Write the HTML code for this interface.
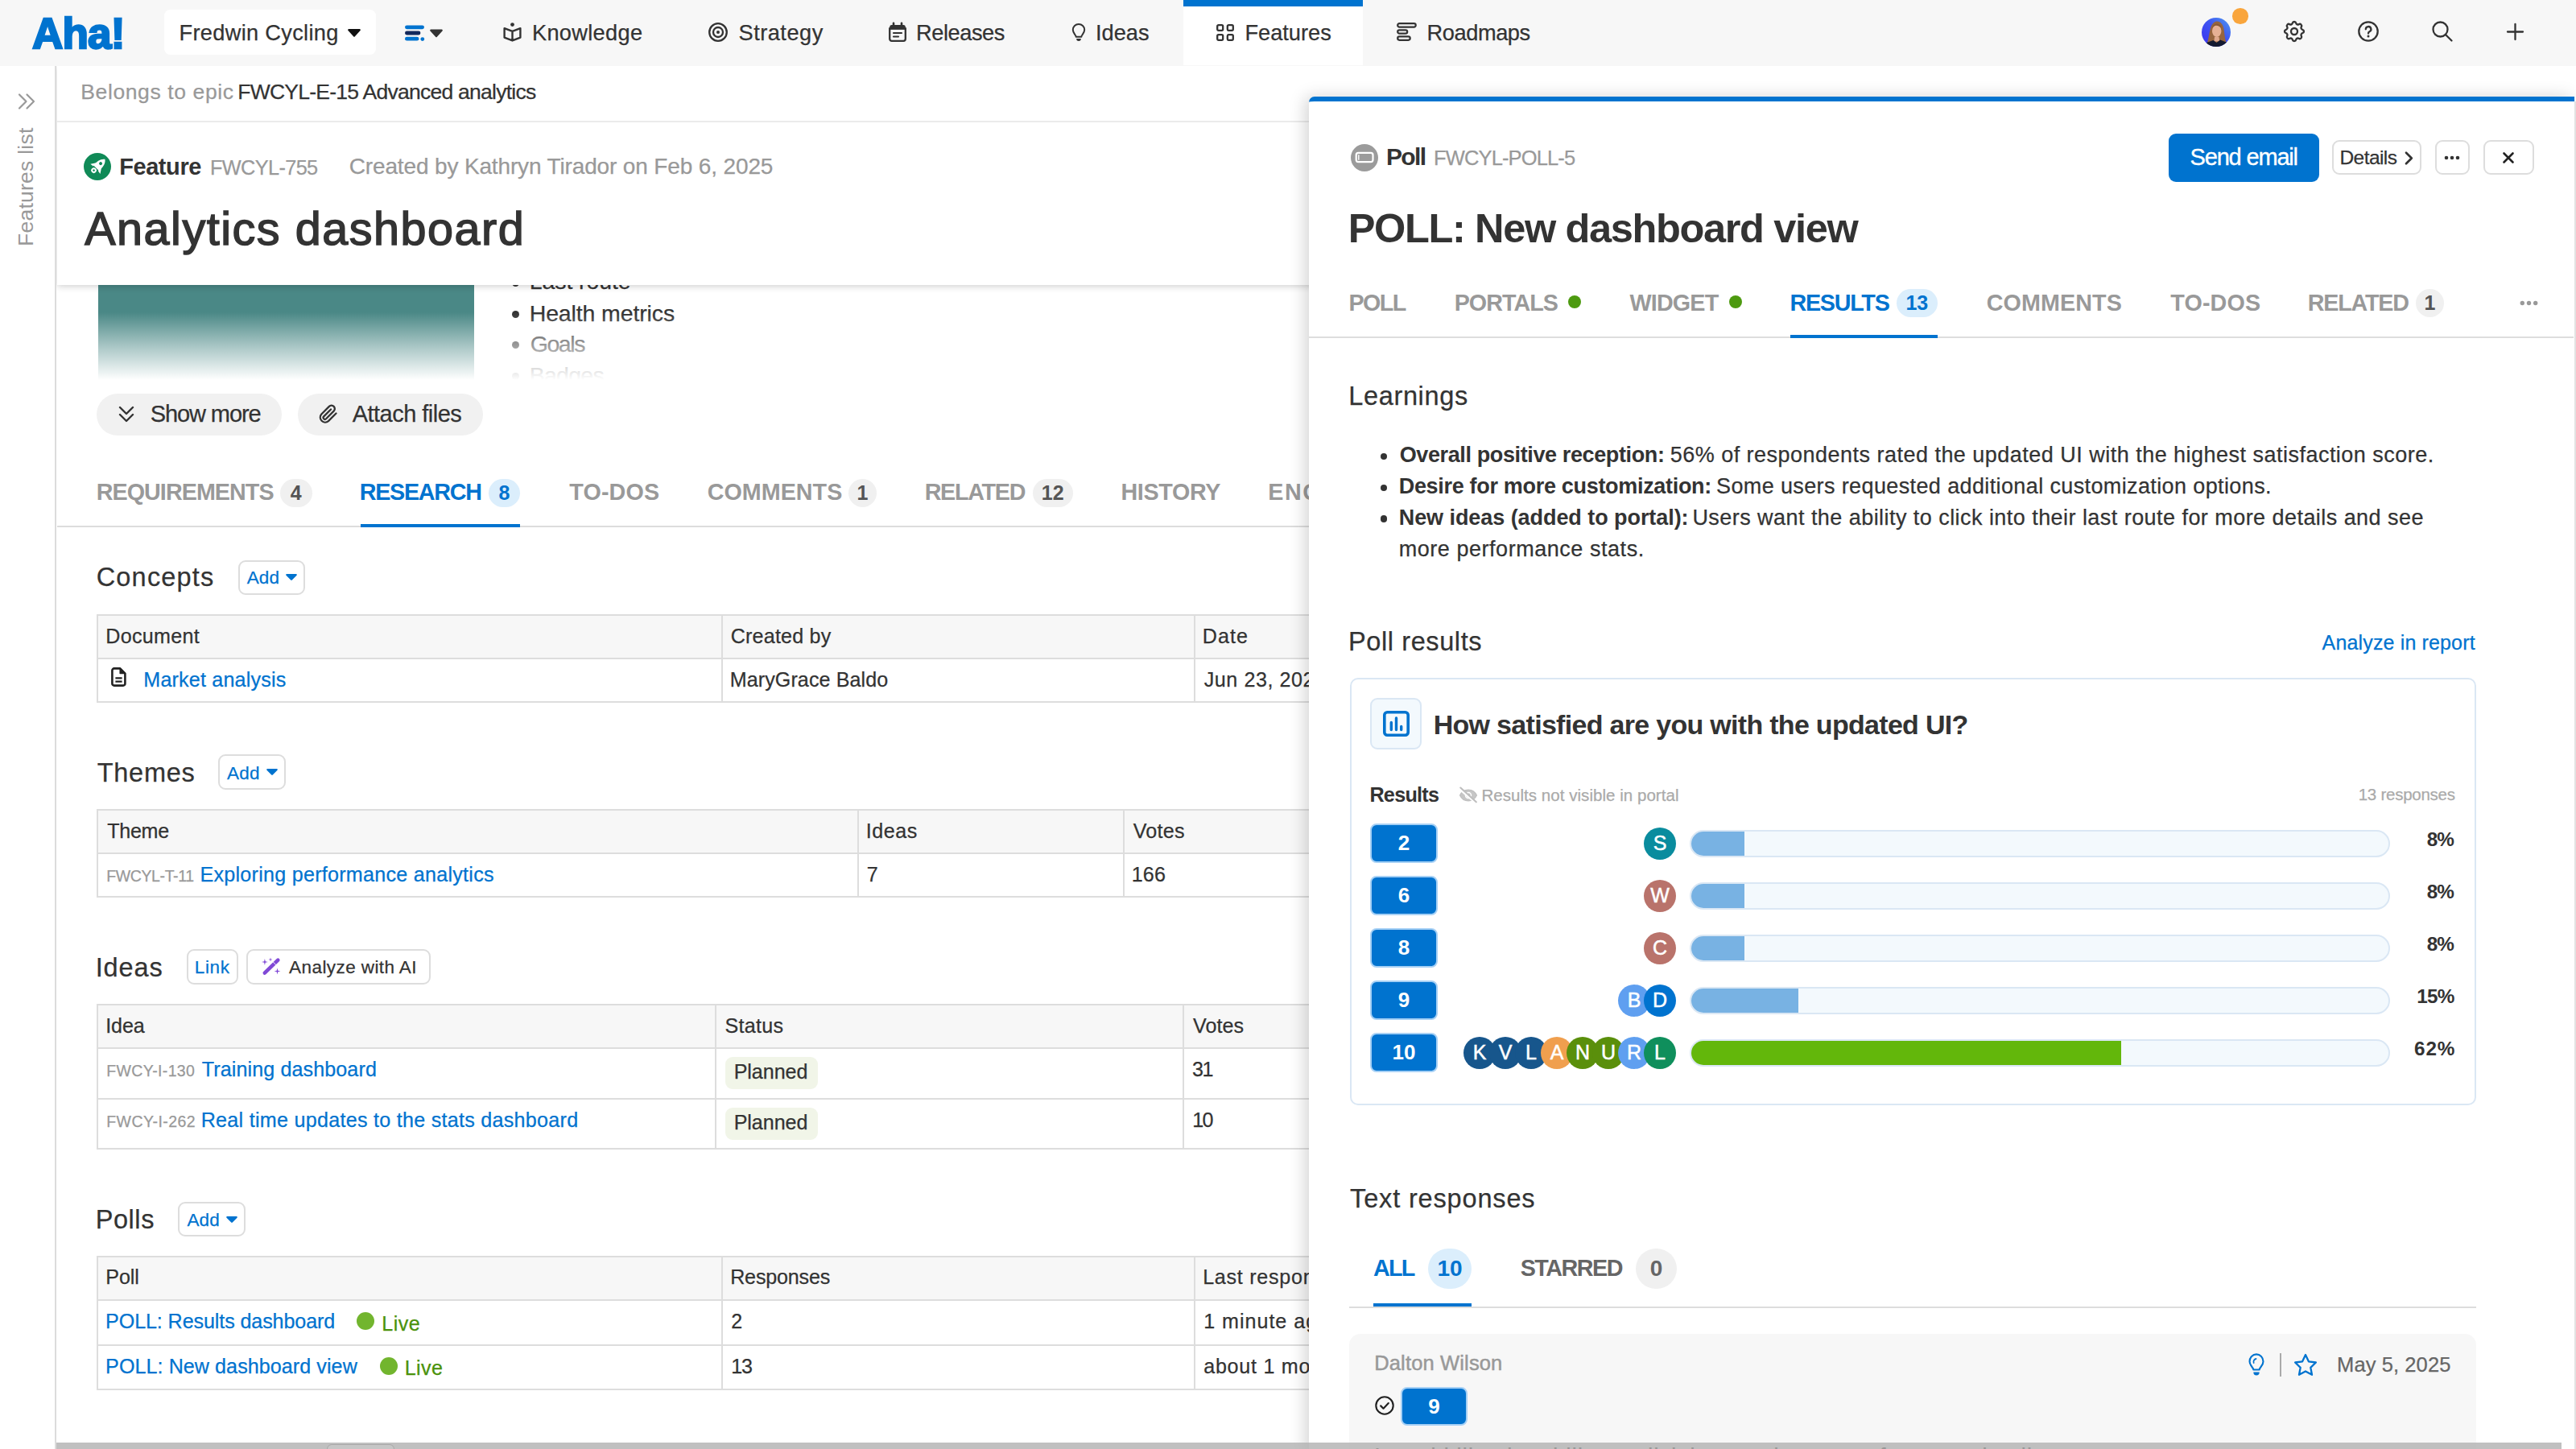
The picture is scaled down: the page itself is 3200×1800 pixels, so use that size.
<!DOCTYPE html>
<html lang="en"><head><meta charset="utf-8"><title>Analytics dashboard - Aha!</title>
<style>
html,body{margin:0;padding:0;background:#fff;}
body{width:3200px;height:1800px;overflow:hidden;position:relative;font-family:'Liberation Sans',Arial,sans-serif;color:#333;}
.ly{position:absolute;left:0;top:0;width:3200px;height:1800px;overflow:hidden;}
.ly *{position:absolute;box-sizing:border-box;}
.t{white-space:pre;line-height:1;color:#333;}
.r{-webkit-text-stroke-width:.25px;}
.c{display:flex;align-items:center;justify-content:center;white-space:pre;line-height:1;}
.c>*{position:static;}
.tb{border:2px solid #ddd;background:#fff;}
.th{background:#f7f7f7;}
.hl{background:#ddd;height:2px;}
.vl{background:#ddd;width:2px;}
.bdg{border-radius:18px;background:#f0f0f0;color:#555;font-weight:700;font-size:25px;}
.bdg.b{background:#dbeefc;color:#0073cf;}
.btn{border:2px solid #ddd;border-radius:9px;background:#fff;}
.nb{background:#0073cf;border:2.5px solid #a6d0f5;border-radius:8px;color:#fff;font-weight:700;font-size:26px;}
.av{width:40px;height:40px;border-radius:50%;color:#fff;font-size:25px;-webkit-text-stroke:.5px #fff;}
.bar{left:2099px;width:869.500px;height:34px;border:2px solid #dae7f4;border-radius:17px;background:#f3f9fd;overflow:hidden;}
.bar i{left:0;top:0;height:30px;background:#78b2e3;}
.dot{border-radius:50%;}
svg{overflow:visible;}
@media (max-width:2400px){html{zoom:.5;}}
</style></head><body>

<!-- ============ LEFT CONTENT ============ -->
<div class="ly" id="left">
  <div style="left:121.500px;top:340px;width:467.500px;height:132px;background:#4a8886"></div>
  <div class="dot" style="left:636px;top:347px;width:9px;height:9px;background:#333"></div>
  <div class="dot" style="left:636px;top:385.5px;width:9px;height:9px;background:#333"></div>
  <div class="dot" style="left:636px;top:424px;width:9px;height:9px;background:#333"></div>
  <div class="dot" style="left:636px;top:462.5px;width:9px;height:9px;background:#333"></div>
<span class="t r" style="left:657.7px;top:335.3px;font-size:28.5px;letter-spacing:-0.08px;">Last route</span>
<span class="t r" style="left:657.7px;top:374.8px;font-size:28.5px;letter-spacing:-0.13px;">Health metrics</span>
<span class="t r" style="left:658.7px;top:413.3px;font-size:28.5px;letter-spacing:-1.43px;">Goals</span>
<span class="t r" style="left:657.7px;top:451.8px;font-size:28.5px;letter-spacing:-0.74px;">Badges</span>
  <div style="left:71px;top:388px;width:1700px;height:84px;background:linear-gradient(to bottom,rgba(255,255,255,0) 0%,rgba(255,255,255,.52) 50%,#fff 100%)"></div>
  <div style="left:71px;top:472px;width:1700px;height:17px;background:#fff"></div>
  <!-- buttons -->
  <div style="left:120px;top:489px;width:230px;height:52px;border-radius:26px;background:#f1f1f1"></div>
  <div style="left:370px;top:489px;width:230px;height:52px;border-radius:26px;background:#f1f1f1"></div>
  <svg style="left:147px;top:503px" width="20" height="24" viewBox="0 0 20 24"><path d="M2 3l8 8 8-8M2 12l8 8 8-8" fill="none" stroke="#333" stroke-width="2.4" stroke-linecap="round" stroke-linejoin="round"/></svg>
  <svg style="left:395px;top:502px" width="25" height="26" viewBox="0 0 25 26"><path d="M22.5 11.5l-9.6 9.6a6.1 6.1 0 0 1-8.6-8.6l9.6-9.6a4.06 4.06 0 0 1 5.75 5.75l-9.6 9.6a2.03 2.03 0 0 1-2.87-2.87l8.87-8.87" fill="none" stroke="#333" stroke-width="2.3" stroke-linecap="round" stroke-linejoin="round"/></svg>
  <!-- tabs -->
  <div class="hl" style="left:71px;top:652.6px;width:1700px"></div>
  <div style="left:448px;top:651px;width:198px;height:3.700px;background:#0073cf"></div>
  <div class="c bdg" style="left:348px;top:594.800px;width:39.6px;height:35px">4</div>
  <div class="c bdg b" style="left:607px;top:594.800px;width:39px;height:35px">8</div>
  <div class="c bdg" style="left:1053.7px;top:594.800px;width:35.3px;height:35px">1</div>
  <div class="c bdg" style="left:1282.5px;top:594.800px;width:50.5px;height:35px">12</div>
  <!-- section buttons -->
  <div class="btn" style="left:295.700px;top:695.500px;width:83px;height:43px"></div>
  <div class="btn" style="left:270.800px;top:937.300px;width:84.200px;height:43.400px"></div>
  <div class="btn" style="left:221.200px;top:1492.800px;width:84px;height:43.400px"></div>
  <div class="btn" style="left:232.200px;top:1179.300px;width:63.600px;height:43.400px"></div>
  <div class="btn" style="left:306.400px;top:1179.300px;width:228.600px;height:43.400px"></div>
  <svg style="left:355px;top:713px" width="14" height="8" viewBox="0 0 14 8"><path d="M1.2 0h11.6a1 1 0 0 1 .75 1.7L7.8 7.6a1.1 1.1 0 0 1-1.6 0L.45 1.7A1 1 0 0 1 1.2 0z" fill="#0073cf"/></svg>
  <svg style="left:330.5px;top:955px" width="14" height="8" viewBox="0 0 14 8"><path d="M1.2 0h11.6a1 1 0 0 1 .75 1.7L7.8 7.6a1.1 1.1 0 0 1-1.6 0L.45 1.7A1 1 0 0 1 1.2 0z" fill="#0073cf"/></svg>
  <svg style="left:280.5px;top:1510.5px" width="14" height="8" viewBox="0 0 14 8"><path d="M1.2 0h11.6a1 1 0 0 1 .75 1.7L7.8 7.6a1.1 1.1 0 0 1-1.6 0L.45 1.7A1 1 0 0 1 1.2 0z" fill="#0073cf"/></svg>
  <!-- wand icon -->
  <svg style="left:322px;top:1186px" width="30" height="30" viewBox="0 0 30 30"><path d="M6.8 22.6L23.3 6.6" stroke="#8049d6" stroke-width="4.600" stroke-linecap="round"/><path d="M21.10 12.91L16.92 8.61" stroke="#fff" stroke-width="0.900"/><path d="M6.90 5.10L7.67 8.23L10.80 9.00L7.67 9.77L6.90 12.90L6.13 9.77L3.00 9.00L6.13 8.23ZM14.00 3.50L14.49 5.51L16.50 6.00L14.49 6.49L14.00 8.50L13.51 6.49L11.50 6.00L13.51 5.51ZM22.50 16.60L23.27 19.73L26.40 20.50L23.27 21.27L22.50 24.40L21.73 21.27L18.60 20.50L21.73 19.73Z" fill="#8049d6"/></svg>
  <!-- tables -->
  <div class="tb" style="left:120px;top:763px;width:1700px;height:110px"><div class="th" style="left:0;top:0;width:1700px;height:52px"></div><div class="hl" style="left:0;top:52px;width:1700px"></div><div class="vl" style="left:773.5px;top:0;height:106px"></div><div class="vl" style="left:1360.5px;top:0;height:106px"></div></div>
  <div class="tb" style="left:120px;top:1005px;width:1700px;height:110px"><div class="th" style="left:0;top:0;width:1700px;height:52px"></div><div class="hl" style="left:0;top:52px;width:1700px"></div><div class="vl" style="left:942.5px;top:0;height:106px"></div><div class="vl" style="left:1272.5px;top:0;height:106px"></div></div>
  <div class="tb" style="left:120px;top:1247px;width:1700px;height:181px"><div class="th" style="left:0;top:0;width:1700px;height:52px"></div><div class="hl" style="left:0;top:52px;width:1700px"></div><div class="hl" style="left:0;top:115px;width:1700px"></div><div class="vl" style="left:765.5px;top:0;height:177px"></div><div class="vl" style="left:1346.5px;top:0;height:177px"></div>
    <div style="left:778.5px;top:63.8px;width:115px;height:40.4px;border-radius:9px;background:#f1f5e8"></div><div style="left:778.5px;top:126.8px;width:115px;height:40.4px;border-radius:9px;background:#f1f5e8"></div></div>
  <div class="tb" style="left:120px;top:1560px;width:1700px;height:167px"><div class="th" style="left:0;top:0;width:1700px;height:52px"></div><div class="hl" style="left:0;top:52px;width:1700px"></div><div class="hl" style="left:0;top:107.5px;width:1700px"></div><div class="vl" style="left:773.5px;top:0;height:163px"></div><div class="vl" style="left:1360.5px;top:0;height:163px"></div></div>
  <!-- doc icon -->
  <svg style="left:138px;top:829px" width="19" height="24" viewBox="0 0 19 24"><path d="M3.800 1.400h7.400l6.200 6.200v12.600a2.400 2.400 0 0 1-2.400 2.400H3.800a2.400 2.400 0 0 1-2.400-2.400V3.800a2.400 2.400 0 0 1 2.400-2.400z" fill="none" stroke="#222" stroke-width="2.600" stroke-linejoin="round"/><path d="M11.200 1.400v6.200h6.200z" fill="#222" stroke="#222" stroke-width="1.500" stroke-linejoin="round"/><path d="M5.400 13.300h8.200M5.400 17.600h8.200" fill="none" stroke="#222" stroke-width="2.300"/></svg>
  <!-- live dots -->
  <div class="dot" style="left:443px;top:1630px;width:22px;height:22px;background:#72b52e"></div>
  <div class="dot" style="left:471.800px;top:1685.500px;width:22px;height:22px;background:#72b52e"></div>
<span class="t r" style="left:186.7px;top:500.4px;font-size:29px;letter-spacing:-1.09px;">Show more</span>
<span class="t r" style="left:437.7px;top:500.4px;font-size:29px;letter-spacing:-0.52px;">Attach files</span>
<span class="t" style="left:119.7px;top:596.9px;font-size:28.7px;font-weight:700;color:#999999;letter-spacing:-0.93px;">REQUIREMENTS</span>
<span class="t" style="left:446.7px;top:596.9px;font-size:28.7px;font-weight:700;color:#0073cf;letter-spacing:-1.24px;">RESEARCH</span>
<span class="t" style="left:707.3px;top:596.9px;font-size:28.7px;font-weight:700;color:#999999;letter-spacing:0.14px;">TO-DOS</span>
<span class="t" style="left:878.7px;top:596.9px;font-size:28.7px;font-weight:700;color:#999999;letter-spacing:0.04px;">COMMENTS</span>
<span class="t" style="left:1148.7px;top:596.9px;font-size:28.7px;font-weight:700;color:#999999;letter-spacing:-1.28px;">RELATED</span>
<span class="t" style="left:1392.4px;top:596.9px;font-size:28.7px;font-weight:700;color:#999999;letter-spacing:-0.32px;">HISTORY</span>
<span class="t" style="left:1575.3px;top:596.9px;font-size:28.7px;font-weight:700;color:#999999;letter-spacing:1.57px;">ENGINEERING</span>
<span class="t r" style="left:119.7px;top:701.4px;font-size:32.5px;letter-spacing:1.19px;">Concepts</span>
<span class="t r" style="left:120.7px;top:944.2px;font-size:32.5px;letter-spacing:0.74px;">Themes</span>
<span class="t r" style="left:118.7px;top:1186.2px;font-size:32.5px;letter-spacing:0.90px;">Ideas</span>
<span class="t r" style="left:118.7px;top:1498.7px;font-size:32.5px;letter-spacing:0.57px;">Polls</span>
<span class="t r" style="left:306.7px;top:707.4px;font-size:22.5px;color:#0073cf;letter-spacing:0.15px;">Add</span>
<span class="t r" style="left:282.1px;top:949.9px;font-size:22.5px;color:#0073cf;letter-spacing:0.15px;">Add</span>
<span class="t r" style="left:232.4px;top:1504.9px;font-size:22.5px;color:#0073cf;letter-spacing:0.15px;">Add</span>
<span class="t r" style="left:241.7px;top:1190.8px;font-size:22.5px;color:#0073cf;letter-spacing:0.70px;">Link</span>
<span class="t r" style="left:359.1px;top:1190.8px;font-size:22.5px;letter-spacing:0.42px;">Analyze with AI</span>
<span class="t r" style="left:131.3px;top:778.2px;font-size:25.1px;letter-spacing:0.31px;">Document</span>
<span class="t r" style="left:907.7px;top:778.2px;font-size:25.1px;letter-spacing:0.20px;">Created by</span>
<span class="t r" style="left:1493.7px;top:778.2px;font-size:25.1px;letter-spacing:1.10px;">Date</span>
<span class="t r" style="left:178.3px;top:831.8px;font-size:25.1px;color:#0073cf;letter-spacing:0.19px;">Market analysis</span>
<span class="t r" style="left:906.7px;top:831.6px;font-size:25.1px;letter-spacing:0.09px;">MaryGrace Baldo</span>
<span class="t r" style="left:1495.7px;top:831.6px;font-size:25.1px;letter-spacing:0.57px;">Jun 23, 2025</span>
<span class="t r" style="left:133.3px;top:1019.6px;font-size:25.1px;letter-spacing:-0.32px;">Theme</span>
<span class="t r" style="left:1075.7px;top:1019.6px;font-size:25.1px;letter-spacing:0.57px;">Ideas</span>
<span class="t r" style="left:1407.7px;top:1019.6px;font-size:25.1px;letter-spacing:0.25px;">Votes</span>
<span class="t r" style="left:132.3px;top:1078.6px;font-size:19.5px;color:#999999;letter-spacing:-0.40px;">FWCYL-T-11</span>
<span class="t r" style="left:248.4px;top:1073.9px;font-size:25.1px;color:#0073cf;letter-spacing:0.27px;">Exploring performance analytics</span>
<span class="t r" style="left:1076.7px;top:1073.9px;font-size:25.1px;letter-spacing:1.30px;">7</span>
<span class="t r" style="left:1405.7px;top:1073.9px;font-size:25.1px;letter-spacing:0.15px;">166</span>
<span class="t r" style="left:131.3px;top:1261.8px;font-size:25.1px;letter-spacing:-0.17px;">Idea</span>
<span class="t r" style="left:900.6px;top:1261.8px;font-size:25.1px;letter-spacing:0.28px;">Status</span>
<span class="t r" style="left:1482.0px;top:1261.8px;font-size:25.1px;letter-spacing:0.07px;">Votes</span>
<span class="t r" style="left:132.3px;top:1320.7px;font-size:19.5px;color:#999999;letter-spacing:0.33px;">FWCY-I-130</span>
<span class="t r" style="left:250.7px;top:1316.0px;font-size:25.1px;color:#0073cf;letter-spacing:0.11px;">Training dashboard</span>
<span class="t r" style="left:911.7px;top:1319.2px;font-size:25.1px;letter-spacing:-0.07px;">Planned</span>
<span class="t r" style="left:1481.0px;top:1316.2px;font-size:25.1px;letter-spacing:-1.50px;">31</span>
<span class="t r" style="left:132.3px;top:1383.5px;font-size:19.5px;color:#999999;letter-spacing:0.41px;">FWCY-I-262</span>
<span class="t r" style="left:249.7px;top:1378.8px;font-size:25.1px;color:#0073cf;letter-spacing:0.28px;">Real time updates to the stats dashboard</span>
<span class="t r" style="left:911.7px;top:1382.2px;font-size:25.1px;letter-spacing:-0.07px;">Planned</span>
<span class="t r" style="left:1481.2px;top:1378.8px;font-size:25.1px;letter-spacing:-1.70px;">10</span>
<span class="t r" style="left:131.3px;top:1573.9px;font-size:25.1px;letter-spacing:-0.10px;">Poll</span>
<span class="t r" style="left:907.2px;top:1573.9px;font-size:25.1px;letter-spacing:-0.19px;">Responses</span>
<span class="t r" style="left:1494.2px;top:1573.9px;font-size:25.1px;letter-spacing:0.73px;">Last response</span>
<span class="t r" style="left:131.1px;top:1629.2px;font-size:25.1px;color:#0073cf;letter-spacing:-0.10px;">POLL: Results dashboard</span>
<span class="t r" style="left:474.2px;top:1631.5px;font-size:25.1px;color:#4a920c;letter-spacing:0.53px;">Live</span>
<span class="t r" style="left:908.2px;top:1629.2px;font-size:25.1px;letter-spacing:1.80px;">2</span>
<span class="t r" style="left:1495.2px;top:1629.2px;font-size:25.1px;letter-spacing:0.98px;">1 minute ago</span>
<span class="t r" style="left:131.1px;top:1684.7px;font-size:25.1px;color:#0073cf;letter-spacing:0.07px;">POLL: New dashboard view</span>
<span class="t r" style="left:502.7px;top:1687.0px;font-size:25.1px;color:#4a920c;letter-spacing:0.37px;">Live</span>
<span class="t r" style="left:908.2px;top:1684.7px;font-size:25.1px;letter-spacing:-1.20px;">13</span>
<span class="t r" style="left:1495.2px;top:1684.7px;font-size:25.1px;letter-spacing:0.74px;">about 1 month ago</span>
</div>

<!-- ============ HEADER ============ -->
<div class="ly" id="hdr">
  <div style="left:71px;top:81px;width:3129px;height:273px;background:#fff;box-shadow:0 2px 8px rgba(0,0,0,.18)"></div>
  <div style="left:71px;top:150px;width:3129px;height:2px;background:#ebebeb"></div>
  <div class="dot" style="left:104px;top:190px;width:34px;height:34px;background:#108a57"></div>
  <svg style="left:104px;top:190px" width="34" height="34" viewBox="-17 -17 34 34"><g transform="translate(.8,-.6) rotate(45)"><path d="M0-12.200C4.300-9 5.600-3.500 4.600 3.200L-4.600 3.200C-5.600-3.500-4.300-9 0-12.200Z" fill="#fff"/><path d="M-4.400-1.500L-8.600 4.800-4.200 4.200ZM4.400-1.500L8.600 4.800 4.200 4.200Z" fill="#fff"/><circle cx="0" cy="-4.600" r="2" fill="#108a57"/><circle cx="0" cy="7.400" r="3.300" fill="#fff"/><circle cx="0" cy="7.400" r="1.300" fill="#108a57"/></g></svg>
<span class="t r" style="left:100.3px;top:100.5px;font-size:26.5px;color:#999999;letter-spacing:0.61px;">Belongs to epic</span>
<span class="t r" style="left:295.2px;top:100.5px;font-size:26.5px;letter-spacing:-0.74px;">FWCYL-E-15 Advanced analytics</span>
<span class="t" style="left:148.2px;top:192.5px;font-size:29px;font-weight:700;letter-spacing:-0.43px;">Feature</span>
<span class="t r" style="left:260.9px;top:195.6px;font-size:25.3px;color:#999999;letter-spacing:-0.61px;">FWCYL-755</span>
<span class="t r" style="left:433.7px;top:193.3px;font-size:28px;color:#999999;letter-spacing:-0.14px;">Created by Kathryn Tirador on Feb 6, 2025</span>
<span class="t" style="left:105.2px;top:256.0px;font-size:57.5px;letter-spacing:1.54px;-webkit-text-stroke:1.5px #333;">Analytics dashboard</span>
</div>

<!-- ============ SIDEBAR ============ -->
<div class="ly" id="side">
  <div style="left:0;top:81px;width:68px;height:1719px;background:#fff"></div>
  <div style="left:68px;top:81px;width:2px;height:1719px;background:#dcdcdc"></div>
  <svg style="left:22px;top:116px" width="22" height="20" viewBox="0 0 22 20"><path d="M2 1.500l8.500 8.500L2 18.500M11.500 1.500L20 10l-8.500 8.500" fill="none" stroke="#999" stroke-width="2.200" stroke-linecap="round" stroke-linejoin="round"/></svg>
  <span class="t" style="left:19px;top:306px;font-size:26.500px;color:#999;transform:rotate(-90deg);transform-origin:0 0;letter-spacing:0.250px">Features list</span>
</div>

<!-- ============ NAV ============ -->
<div class="ly" id="nav">
  <div style="left:0;top:0;width:3200px;height:81.500px;background:#f7f7f7"></div>
  <div style="left:1470px;top:0;width:223px;height:81px;background:#fff;border-top:8px solid #0073cf"></div>
  <div style="left:204px;top:12px;width:263px;height:56px;border-radius:7.500px;background:#fff"></div>
  <svg style="left:432px;top:36px" width="16" height="10" viewBox="0 0 16 10"><path d="M1.300 0h13.400a1.100 1.100 0 0 1 .8 1.900L8.900 9.300a1.200 1.200 0 0 1-1.800 0L.5 1.900A1.100 1.100 0 0 1 1.300 0z" fill="#111"/></svg>
  <svg style="left:503px;top:31px" width="48" height="20" viewBox="0 0 48 20"><path d="M2.400 2.800h19.200" stroke="#0073cf" stroke-width="4.800" stroke-linecap="round"/><path d="M2.400 10h14.600" stroke="#14295c" stroke-width="4.800" stroke-linecap="round"/><path d="M2.400 17.200h12.600" stroke="#0073cf" stroke-width="4.800" stroke-linecap="round"/><circle cx="21.800" cy="17.600" r="2.400" fill="#0073cf"/><path d="M32.300 5.500h13.400a1.100 1.100 0 0 1 .8 1.900l-6.600 7.400a1.200 1.200 0 0 1-1.800 0l-6.600-7.400a1.100 1.100 0 0 1 .8-1.900z" fill="#333"/></svg>
  <!-- knowledge -->
  <svg style="left:624px;top:26.500px" width="25" height="25" viewBox="0 0 24 24"><circle cx="12" cy="3.400" r="2.300" fill="#333"/><path d="M12 11.500v11M12 11.500L2.500 7.800v11L12 22.500l9.500-3.700v-11z" fill="none" stroke="#333" stroke-width="2.300" stroke-linejoin="round"/></svg>
  <!-- strategy -->
  <svg style="left:880px;top:28px" width="24" height="24" viewBox="0 0 24 24"><circle cx="12" cy="12" r="10.800" fill="none" stroke="#333" stroke-width="2.300"/><circle cx="12" cy="12" r="6" fill="none" stroke="#333" stroke-width="2.300"/><circle cx="12" cy="12" r="2" fill="#333"/></svg>
  <!-- releases -->
  <svg style="left:1104px;top:28px" width="22" height="24" viewBox="0 0 22 24"><path d="M1.200 7.500h19.600v12.800a2.500 2.500 0 0 1-2.500 2.500H3.700a2.500 2.500 0 0 1-2.500-2.500z" fill="none" stroke="#333" stroke-width="2.300"/><path d="M3.700 3h14.600a2.500 2.500 0 0 1 2.500 2.500v3H1.200v-3A2.500 2.500 0 0 1 3.700 3z" fill="#333"/><path d="M6 .8v4M16 .8v4" stroke="#333" stroke-width="2.600" stroke-linecap="round"/><path d="M6 13h10M6 17.500h6" stroke="#333" stroke-width="2.200" stroke-linecap="round"/></svg>
  <!-- ideas -->
  <svg style="left:1331px;top:28.500px" width="18" height="22.500" viewBox="0 0 20 25"><path d="M6.300 18.500c0-2.500-4.300-4.500-4.300-9.500a8 8 0 0 1 16 0c0 5-4.300 7-4.300 9.500z" fill="none" stroke="#333" stroke-width="2.200" stroke-linejoin="round"/><path d="M6.800 21.200h6.400a3.200 3.200 0 0 1-6.400 0z" fill="#333"/></svg>
  <!-- features -->
  <svg style="left:1511px;top:29.500px" width="22" height="21" viewBox="0 0 22 21"><g fill="none" stroke="#333" stroke-width="2.300"><rect x="1.200" y="1.200" width="7" height="6.600" rx="1.500"/><rect x="13.800" y="1.200" width="7" height="6.600" rx="1.500"/><rect x="1.200" y="13.200" width="7" height="6.600" rx="1.500"/><rect x="13.800" y="13.200" width="7" height="6.600" rx="1.500"/></g></svg>
  <!-- roadmaps -->
  <svg style="left:1735px;top:28px" width="25" height="23" viewBox="0 0 25 23"><g fill="none" stroke="#333" stroke-width="2.200"><rect x="1.200" y="1.200" width="22.500" height="4.400" rx="2.200"/><rect x="1.200" y="9.300" width="12" height="4.400" rx="2.200"/><rect x="1.200" y="17.400" width="15.500" height="4.400" rx="2.200"/></g></svg>
  <!-- avatar -->
  <svg style="left:2735px;top:22px" width="36" height="36" viewBox="0 0 36 36"><defs><linearGradient id="avbg" x1="0" y1="1" x2="1" y2="0"><stop offset="0" stop-color="#3a30ee"/><stop offset=".55" stop-color="#3f55f2"/><stop offset="1" stop-color="#4d9af0"/></linearGradient><clipPath id="avc"><circle cx="18" cy="18" r="18"/></clipPath></defs><g clip-path="url(#avc)"><rect width="36" height="36" fill="url(#avbg)"/><path d="M6.500 33c2-6 2.500-12 4-18 1.200-5.500 4-10.600 8.500-10.600 4.600 0 7.500 4 8.400 9 1 6 1.300 12.500 3.100 17.600l-12 5z" fill="#96653f"/><ellipse cx="18.700" cy="16.400" rx="5.700" ry="7.600" fill="#e6b095"/><path d="M12.600 14c1-4.500 3.600-6.800 7-6.400 2.800.4 4.700 2.600 5.200 6-2-2.600-4.400-3.900-7-3.800-2 .1-3.800 1.600-5.200 4.200z" fill="#8a5a38"/><path d="M16 24h5.500l.8 5.500h-7z" fill="#dfa88d"/><path d="M4.500 31.500l10-3.500 4 3 4.500-3.500 9 3.500v6h-27.500z" fill="#141a30"/></g></svg>
  <div class="dot" style="left:2773.200px;top:10px;width:19.600px;height:19.600px;background:#f9a53c"></div>
  <!-- gear -->
  <svg style="left:2834px;top:23px" width="32" height="32" viewBox="0 0 24 24"><path d="M10.325 4.317c.426-1.756 2.924-1.756 3.350 0a1.724 1.724 0 0 0 2.573 1.066c1.543-.94 3.310.826 2.370 2.370a1.724 1.724 0 0 0 1.065 2.572c1.756.426 1.756 2.924 0 3.350a1.724 1.724 0 0 0-1.066 2.573c.94 1.543-.826 3.310-2.370 2.370a1.724 1.724 0 0 0-2.572 1.065c-.426 1.756-2.924 1.756-3.350 0a1.724 1.724 0 0 0-2.573-1.066c-1.543.940-3.310-.826-2.370-2.370a1.724 1.724 0 0 0-1.065-2.572c-1.756-.426-1.756-2.924 0-3.350a1.724 1.724 0 0 0 1.066-2.573c-.940-1.543.826-3.310 2.370-2.370.996.608 2.296.070 2.572-1.065z" fill="none" stroke="#333" stroke-width="1.750"/><circle cx="12" cy="12" r="3" fill="none" stroke="#333" stroke-width="1.750"/></svg>
  <!-- help -->
  <svg style="left:2929px;top:26px" width="26" height="26" viewBox="0 0 26 26"><circle cx="13" cy="13" r="11.700" fill="none" stroke="#333" stroke-width="2.300"/><path d="M9.800 10.300a3.300 3.300 0 1 1 4.700 3c-1 .5-1.500 1.100-1.500 2.200" fill="none" stroke="#333" stroke-width="2.300" stroke-linecap="round"/><circle cx="13" cy="19" r="1.500" fill="#333"/></svg>
  <!-- search -->
  <svg style="left:3021px;top:26px" width="26" height="26" viewBox="0 0 26 26"><circle cx="10.500" cy="10.500" r="9" fill="none" stroke="#333" stroke-width="2.300"/><path d="M17.200 17.200l7.300 7.300" stroke="#333" stroke-width="2.300" stroke-linecap="round"/></svg>
  <!-- plus -->
  <svg style="left:3114px;top:29px" width="21" height="21" viewBox="0 0 21 21"><path d="M10.500 1v19M1 10.500h19" stroke="#333" stroke-width="2.300" stroke-linecap="round"/></svg>
<span class="t r" style="left:222.5px;top:26.7px;font-size:27.2px;letter-spacing:0.32px;">Fredwin Cycling</span>
<span class="t r" style="left:661.0px;top:26.7px;font-size:27.2px;letter-spacing:0.31px;">Knowledge</span>
<span class="t r" style="left:917.5px;top:26.7px;font-size:27.2px;letter-spacing:0.50px;">Strategy</span>
<span class="t r" style="left:1138.0px;top:26.7px;font-size:27.2px;letter-spacing:-0.43px;">Releases</span>
<span class="t r" style="left:1361.0px;top:26.7px;font-size:27.2px;">Ideas</span>
<span class="t r" style="left:1546.5px;top:26.7px;font-size:27.2px;letter-spacing:-0.01px;">Features</span>
<span class="t r" style="left:1772.5px;top:26.7px;font-size:27.2px;letter-spacing:-0.40px;">Roadmaps</span>
<span class="t" style="left:40.0px;top:14.9px;font-size:53px;font-weight:700;color:#0073cf;letter-spacing:-0.83px;-webkit-text-stroke:2.4px #0073cf;">Aha!</span>
</div>

<!-- ============ PANEL ============ -->
<div class="ly" id="panel">
  <div style="left:1626px;top:120px;width:1572px;height:1690px;background:#fff;border-top:6.500px solid #0073cf;border-radius:7px 0 0 0;box-shadow:-5px 0 20px rgba(0,0,0,.17)"></div>
  <!-- poll icon -->
  <div class="dot" style="left:1678px;top:179px;width:34px;height:34px;background:#9b9b9b"></div>
  <svg style="left:1678px;top:179px" width="34" height="34" viewBox="0 0 34 34"><rect x="6.700" y="10.900" width="20.800" height="11.200" rx="2.600" fill="none" stroke="#fff" stroke-width="2.200"/><path d="M9.800 13.200v6.600" stroke="#fff" stroke-width="1.400"/></svg>
  <!-- buttons -->
  <div style="left:2694px;top:166px;width:187px;height:60px;border-radius:9px;background:#0073cf"></div>
  <div class="btn" style="left:2897px;top:174.400px;width:110.500px;height:43px"></div>
  <div class="btn" style="left:3024.500px;top:174.400px;width:43.500px;height:43px"></div>
  <div class="btn" style="left:3084.500px;top:174.400px;width:63px;height:43px"></div>
  <svg style="left:2986.500px;top:187.800px" width="11" height="17" viewBox="0 0 11 17"><path d="M2 1.800l6.800 6.700L2 15.200" fill="none" stroke="#333" stroke-width="2.700" stroke-linecap="round" stroke-linejoin="round"/></svg>
  <svg style="left:3036px;top:193px" width="20" height="6" viewBox="0 0 20 6"><circle cx="3" cy="3" r="2.300" fill="#333"/><circle cx="10" cy="3" r="2.300" fill="#333"/><circle cx="17" cy="3" r="2.300" fill="#333"/></svg>
  <svg style="left:3109px;top:189px" width="14" height="14" viewBox="0 0 14 14"><path d="M1.500 1.500l11 11M12.500 1.500l-11 11" stroke="#222" stroke-width="2.600" stroke-linecap="round"/></svg>
  <!-- tabs -->
  <div class="hl" style="left:1626px;top:418px;width:1571px"></div>
  <div style="left:2224px;top:416px;width:183px;height:3.700px;background:#0073cf"></div>
  <div class="dot" style="left:1948px;top:367px;width:16px;height:16px;background:#4d9a10"></div>
  <div class="dot" style="left:2148px;top:367px;width:16px;height:16px;background:#4d9a10"></div>
  <div class="c bdg b" style="left:2356px;top:359.400px;width:50.600px;height:35px">13</div>
  <div class="c bdg" style="left:3001px;top:359.400px;width:35px;height:35px">1</div>
  <svg style="left:3129.500px;top:373px" width="23" height="7" viewBox="0 0 23 7"><circle cx="3.300" cy="3.500" r="2.700" fill="#999"/><circle cx="11.500" cy="3.500" r="2.700" fill="#999"/><circle cx="19.700" cy="3.500" r="2.700" fill="#999"/></svg>
  <!-- learnings bullets -->
  <div class="dot" style="left:1714.700px;top:562.700px;width:8.600px;height:8.600px;background:#333"></div>
  <div class="dot" style="left:1714.700px;top:601.500px;width:8.600px;height:8.600px;background:#333"></div>
  <div class="dot" style="left:1714.700px;top:640.300px;width:8.600px;height:8.600px;background:#333"></div>
  <!-- poll card -->
  <div style="left:1676.500px;top:841.500px;width:1399.500px;height:531px;border:2px solid #dae7f4;border-radius:10px;background:#fff"></div>
  <div style="left:1702px;top:867px;width:64px;height:63.500px;border:2px solid #dae7f4;border-radius:9px;background:#f3f9fd"></div>
  <svg style="left:1717.500px;top:882.500px" width="33" height="32" viewBox="0 0 33 32"><rect x="1.800" y="1.800" width="29.400" height="28.400" rx="3.500" fill="none" stroke="#0073cf" stroke-width="3.600"/><path d="M10.300 14.500v9M16.500 9v14.500M22.700 19.500v4" stroke="#0073cf" stroke-width="3.400" stroke-linecap="round"/></svg>
  <!-- eye-slash -->
  <svg style="left:1812px;top:977px" width="24" height="22" viewBox="0 0 24 22"><path d="M1.600 11c2-4.200 5.800-6.900 10.400-6.900s8.400 2.700 10.400 6.900c-2 4.200-5.800 6.900-10.400 6.900S3.600 15.200 1.600 11z" fill="#c6c6c6" stroke="#c0c0c0" stroke-width="1.400" stroke-linejoin="round"/><circle cx="12" cy="11" r="3.500" fill="none" stroke="#fff" stroke-width="1.500"/><path d="M9.700 9.500a2.600 2.600 0 0 1 2.300-1.300" fill="none" stroke="#fff" stroke-width="1.200"/><path d="M3.300 2.600l18.600 16.200" stroke="#fff" stroke-width="3.200" transform="translate(-1.100,1.100)"/><path d="M2.300 1.500l19.500 17.800" stroke="#bdbdbd" stroke-width="2.100" stroke-linecap="round"/></svg>
<div class="c nb" style="left:1702.3px;top:1023.2px;width:83.4px;height:48.6px">2</div>
<div class="c av" style="left:2042px;top:1027.5px;background:#0a8c9e">S</div>
<div class="bar" style="top:1030.5px"><i style="width:65.8px;background:#78b2e3"></i></div>
<div class="c nb" style="left:1702.3px;top:1088.2px;width:83.4px;height:48.6px">6</div>
<div class="c av" style="left:2042px;top:1092.5px;background:#b9736b">W</div>
<div class="bar" style="top:1095.5px"><i style="width:65.8px;background:#78b2e3"></i></div>
<div class="c nb" style="left:1702.3px;top:1153.2px;width:83.4px;height:48.6px">8</div>
<div class="c av" style="left:2042px;top:1157.5px;background:#b9736b">C</div>
<div class="bar" style="top:1160.5px"><i style="width:65.8px;background:#78b2e3"></i></div>
<div class="c nb" style="left:1702.3px;top:1218.2px;width:83.4px;height:48.6px">9</div>
<div class="c av" style="left:2010px;top:1222.5px;background:#5f9ff0">B</div>
<div class="c av" style="left:2042px;top:1222.5px;background:#0073cf">D</div>
<div class="bar" style="top:1225.5px"><i style="width:132.7px;background:#78b2e3"></i></div>
<div class="c nb" style="left:1702.3px;top:1283.2px;width:83.4px;height:48.6px">10</div>
<div class="c av" style="left:1818px;top:1287.5px;background:#17568c">K</div>
<div class="c av" style="left:1850px;top:1287.5px;background:#17568c">V</div>
<div class="c av" style="left:1882px;top:1287.5px;background:#17568c">L</div>
<div class="c av" style="left:1914px;top:1287.5px;background:#f09f4e">A</div>
<div class="c av" style="left:1946px;top:1287.5px;background:#5a8f0b">N</div>
<div class="c av" style="left:1978px;top:1287.5px;background:#5a8f0b">U</div>
<div class="c av" style="left:2010px;top:1287.5px;background:#5f9ff0">R</div>
<div class="c av" style="left:2042px;top:1287.5px;background:#0f8f5c">L</div>
<div class="bar" style="top:1290.5px"><i style="width:533.8px;background:#63b70b"></i></div>
  <!-- text responses -->
  <div class="hl" style="left:1676px;top:1623.300px;width:1400px"></div>
  <div style="left:1706px;top:1619.300px;width:122px;height:4px;background:#0073cf"></div>
  <div class="c bdg b" style="left:1774px;top:1551px;width:54px;height:50px;border-radius:25px;font-size:28px">10</div>
  <div class="c bdg" style="left:2032px;top:1551px;width:51px;height:50px;border-radius:25px;font-size:28px;color:#666">0</div>
  <div style="left:1676px;top:1656.600px;width:1400px;height:200px;border-radius:14px;background:#f7f7f7"></div>
  <svg style="left:1708px;top:1734px" width="24" height="24" viewBox="0 0 24 24"><circle cx="12" cy="12" r="10.700" fill="none" stroke="#222" stroke-width="2.100"/><path d="M7.200 12.400l3.300 3.300 6.300-6.600" fill="none" stroke="#222" stroke-width="2.200" stroke-linecap="round" stroke-linejoin="round"/></svg>
  <div class="c nb" style="left:1740px;top:1723.300px;width:83px;height:47.600px">9</div>
  <!-- bulb -->
  <svg style="left:2793px;top:1681px" width="20" height="29" viewBox="0 0 21 29" preserveAspectRatio="none"><path d="M6.600 20.500c0-2.800-5-5-5-10.300a8.900 8.900 0 0 1 17.800 0c0 5.300-5 7.500-5 10.300z" fill="none" stroke="#0073cf" stroke-width="2.200" stroke-linejoin="round"/><path d="M7 12a3.800 3.800 0 0 1 3-5" fill="none" stroke="#0073cf" stroke-width="1.800" stroke-linecap="round"/><path d="M6.600 23.500h7.800a3.900 3.900 0 0 1-7.800 0z" fill="#0073cf"/></svg>
  <div style="left:2832px;top:1680.500px;width:2.200px;height:29px;background:#aaa"></div>
  <svg style="left:2849px;top:1681px" width="30" height="29" viewBox="0 0 30 29"><path d="M15 2l3.900 8.300 9 1.200-6.600 6.300 1.700 9L15 22.400l-8 4.400 1.700-9-6.600-6.300 9-1.200z" fill="none" stroke="#0073cf" stroke-width="2.300" stroke-linejoin="round"/></svg>
<span class="t" style="left:1721.9px;top:179.9px;font-size:30px;font-weight:700;letter-spacing:-1.63px;">Poll</span>
<span class="t r" style="left:1781.1px;top:183.7px;font-size:25.5px;color:#999999;letter-spacing:-0.87px;">FWCYL-POLL-5</span>
<span class="t" style="left:2720.5px;top:180.9px;font-size:29px;color:#ffffff;letter-spacing:-1.17px;-webkit-text-stroke:0.35px #fff;">Send email</span>
<span class="t r" style="left:2906.5px;top:184.0px;font-size:24.5px;letter-spacing:-0.58px;">Details</span>
<span class="t" style="left:1674.7px;top:258.7px;font-size:50.5px;font-weight:700;letter-spacing:-1.35px;">POLL: New dashboard view</span>
<span class="t" style="left:1675.5px;top:362.0px;font-size:28.7px;font-weight:700;color:#999999;letter-spacing:-1.60px;">POLL</span>
<span class="t" style="left:1806.7px;top:362.0px;font-size:28.7px;font-weight:700;color:#999999;letter-spacing:-0.95px;">PORTALS</span>
<span class="t" style="left:2024.4px;top:362.0px;font-size:28.7px;font-weight:700;color:#999999;letter-spacing:-0.78px;">WIDGET</span>
<span class="t" style="left:2223.4px;top:362.0px;font-size:28.7px;font-weight:700;color:#0073cf;letter-spacing:-1.23px;">RESULTS</span>
<span class="t" style="left:2467.7px;top:362.0px;font-size:28.7px;font-weight:700;color:#999999;letter-spacing:0.11px;">COMMENTS</span>
<span class="t" style="left:2696.3px;top:362.0px;font-size:28.7px;font-weight:700;color:#999999;letter-spacing:0.14px;">TO-DOS</span>
<span class="t" style="left:2866.7px;top:362.0px;font-size:28.7px;font-weight:700;color:#999999;letter-spacing:-1.18px;">RELATED</span>
<span class="t r" style="left:1675.2px;top:475.5px;font-size:32.5px;letter-spacing:0.66px;">Learnings</span>
<span class="t" style="left:1738.7px;top:552.3px;font-size:27px;font-weight:700;letter-spacing:-0.38px;">Overall positive reception:</span>
<span class="t r" style="left:2074.7px;top:552.3px;font-size:27px;letter-spacing:0.48px;">56% of respondents rated the updated UI with the highest satisfaction score.</span>
<span class="t" style="left:1737.7px;top:591.1px;font-size:27px;font-weight:700;letter-spacing:-0.31px;">Desire for more customization:</span>
<span class="t r" style="left:2132.0px;top:591.1px;font-size:27px;letter-spacing:0.38px;">Some users requested additional customization options.</span>
<span class="t" style="left:1737.7px;top:629.8px;font-size:27px;font-weight:700;letter-spacing:-0.06px;">New ideas (added to portal):</span>
<span class="t r" style="left:2102.4px;top:629.8px;font-size:27px;letter-spacing:0.45px;">Users want the ability to click into their last route for more details and see</span>
<span class="t r" style="left:1737.7px;top:669.1px;font-size:27px;letter-spacing:0.54px;">more performance stats.</span>
<span class="t r" style="left:1675.1px;top:780.9px;font-size:32.5px;letter-spacing:0.59px;">Poll results</span>
<span class="t r" style="left:2884.6px;top:785.6px;font-size:25px;color:#0073cf;letter-spacing:0.15px;">Analyze in report</span>
<span class="t" style="left:1780.7px;top:883.3px;font-size:34px;font-weight:700;letter-spacing:-0.70px;">How satisfied are you with the updated UI?</span>
<span class="t" style="left:1701.4px;top:974.6px;font-size:25.2px;font-weight:700;letter-spacing:-0.73px;">Results</span>
<span class="t r" style="left:1840.5px;top:977.8px;font-size:20.5px;color:#aaaaaa;letter-spacing:0.04px;">Results not visible in portal</span>
<span class="t r" style="left:2929.7px;top:977.4px;font-size:20.5px;color:#aaaaaa;letter-spacing:-0.25px;">13 responses</span>
<span class="t" style="left:3014.7px;top:1030.8px;font-size:24.3px;font-weight:700;letter-spacing:-1.00px;">8%</span>
<span class="t" style="left:3014.7px;top:1095.8px;font-size:24.3px;font-weight:700;letter-spacing:-1.00px;">8%</span>
<span class="t" style="left:3014.7px;top:1160.8px;font-size:24.3px;font-weight:700;letter-spacing:-1.00px;">8%</span>
<span class="t" style="left:3002.2px;top:1225.8px;font-size:24.3px;font-weight:700;letter-spacing:-0.75px;">15%</span>
<span class="t" style="left:2999.1px;top:1290.8px;font-size:24.3px;font-weight:700;letter-spacing:0.80px;">62%</span>
<span class="t r" style="left:1677.1px;top:1472.7px;font-size:32.5px;letter-spacing:0.84px;">Text responses</span>
<span class="t" style="left:1706.0px;top:1561.2px;font-size:28.7px;font-weight:700;color:#0073cf;letter-spacing:-1.80px;">ALL</span>
<span class="t" style="left:1888.7px;top:1561.2px;font-size:28.7px;font-weight:700;color:#666666;letter-spacing:-1.45px;">STARRED</span>
<span class="t" style="left:1707.2px;top:1681.2px;font-size:25.5px;color:#999999;letter-spacing:0.15px;-webkit-text-stroke:0.5px #999;">Dalton Wilson</span>
<span class="t r" style="left:2903.1px;top:1682.8px;font-size:25.5px;color:#666666;letter-spacing:0.09px;">May 5, 2025</span>
<span class="t r" style="left:1707.2px;top:1795.9px;font-size:27px;letter-spacing:1.17px;">I would like the ability to click into my last route for more details</span>
</div>

<div class="ly"><div style="left:3198px;top:126px;width:2px;height:1674px;background:#e2e2e2"></div></div>
<!-- bottom scrollbar -->
<div class="ly" id="bot">
  <div style="left:70px;top:1792px;width:3112px;height:8px;background:rgba(176,176,176,.8)"></div>
  <div style="left:406px;top:1793.500px;width:84px;height:10px;border:1.500px solid #a8a8a8;border-radius:6px 6px 0 0;background:#c6c6c6"></div>
</div>
</body></html>
